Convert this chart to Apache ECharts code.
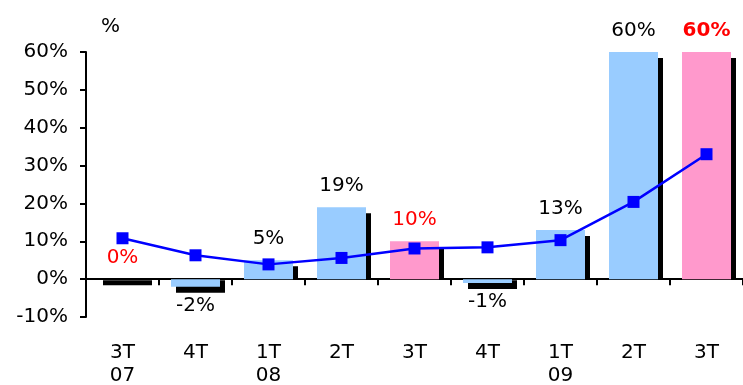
<!DOCTYPE html>
<html>
<head>
<meta charset="utf-8">
<script src="https://cdn.jsdelivr.net/npm/echarts@6/dist/echarts.min.js"></script>
<style>
  html, body { margin: 0; padding: 0; background: #fff; }
  #chart { width: 743px; height: 385px; }
</style>
</head>
<body>
<div id="chart"></div>
<script>
var categories = ['3T\n07', '4T', '1T\n08', '2T', '3T', '4T', '1T\n09', '2T', '3T'];
var barValues = [0, -2, 5, 19, 10, -1, 13, 60, 60];
var lineValues = [10.8, 6.3, 3.9, 5.6, 8.1, 8.4, 10.3, 20.4, 33.0];
var yTicks = { min: -10, max: 60, step: 10 };

var FONT = 'DejaVu Sans';
var BAR_W = 49;

// 3T quarters are the pink ones, red labels
function isThird(i) { return categories[i].indexOf('3T') === 0; }

var barData = barValues.map(function (v, i) {
    var third = isThird(i);
    return {
        value: v,
        itemStyle: { color: third ? '#FF99CC' : '#99CCFF' },
        label: {
            show: true,
            position: v >= 0 ? 'top' : 'bottom',
            distance: v >= 0 ? 11 : 9,
            formatter: Math.round(v) + '%',
            color: third ? '#FF0000' : '#000',
            fontWeight: i === barValues.length - 1 ? 'bold' : 'normal',
            fontFamily: FONT,
            fontSize: 20
        }
    };
});

var chart = echarts.init(document.getElementById('chart'));
chart.setOption({
    animation: false,
    title: {
        text: '%',
        left: 96,
        top: 12,
        textStyle: { fontFamily: FONT, fontSize: 20, fontWeight: 'normal', color: '#000' }
    },
    grid: { left: 86, right: 0, top: 52, bottom: 68, containLabel: false, outerBoundsMode: 'none' },
    xAxis: {
        type: 'category',
        data: categories,
        axisLine: { onZero: true, lineStyle: { color: '#000', width: 2 } },
        axisTick: { show: true, length: 6, lineStyle: { color: '#000', width: 2 } },
        axisLabel: { margin: 24, color: '#000', fontFamily: FONT, fontSize: 20, lineHeight: 23 },
        splitLine: { show: false }
    },
    yAxis: {
        type: 'value',
        min: yTicks.min,
        max: yTicks.max,
        interval: yTicks.step,
        axisLine: { show: true, lineStyle: { color: '#000', width: 2 } },
        axisTick: { show: true, length: 6, lineStyle: { color: '#000', width: 2 } },
        axisLabel: { formatter: '{value}%', margin: 18, color: '#000', fontFamily: FONT, fontSize: 20 },
        splitLine: { show: false }
    },
    series: [
        {
            // black drop shadow behind each bar
            type: 'custom',
            z: 1,
            data: barValues.map(function (v, i) { return [i, v]; }),
            renderItem: function (params, api) {
                var v = api.value(1);
                var top = api.coord([api.value(0), v]);
                var zero = api.coord([api.value(0), 0]);
                var x = top[0] - BAR_W / 2 + 5;
                var y1, y2;
                if (v > 0) { y1 = top[1] + 6; y2 = zero[1]; }
                else { y1 = zero[1] + 1; y2 = top[1] + 6; }
                return {
                    type: 'rect',
                    shape: { x: x, y: y1, width: BAR_W, height: y2 - y1 },
                    style: { fill: '#000' }
                };
            }
        },
        {
            type: 'bar',
            z: 2,
            barWidth: BAR_W,
            data: barData
        },
        {
            type: 'line',
            z: 3,
            data: lineValues,
            symbol: 'rect',
            symbolSize: 12,
            lineStyle: { color: '#0000FF', width: 2.5 },
            itemStyle: { color: '#0000FF' }
        }
    ]
});
</script>
</body>
</html>
